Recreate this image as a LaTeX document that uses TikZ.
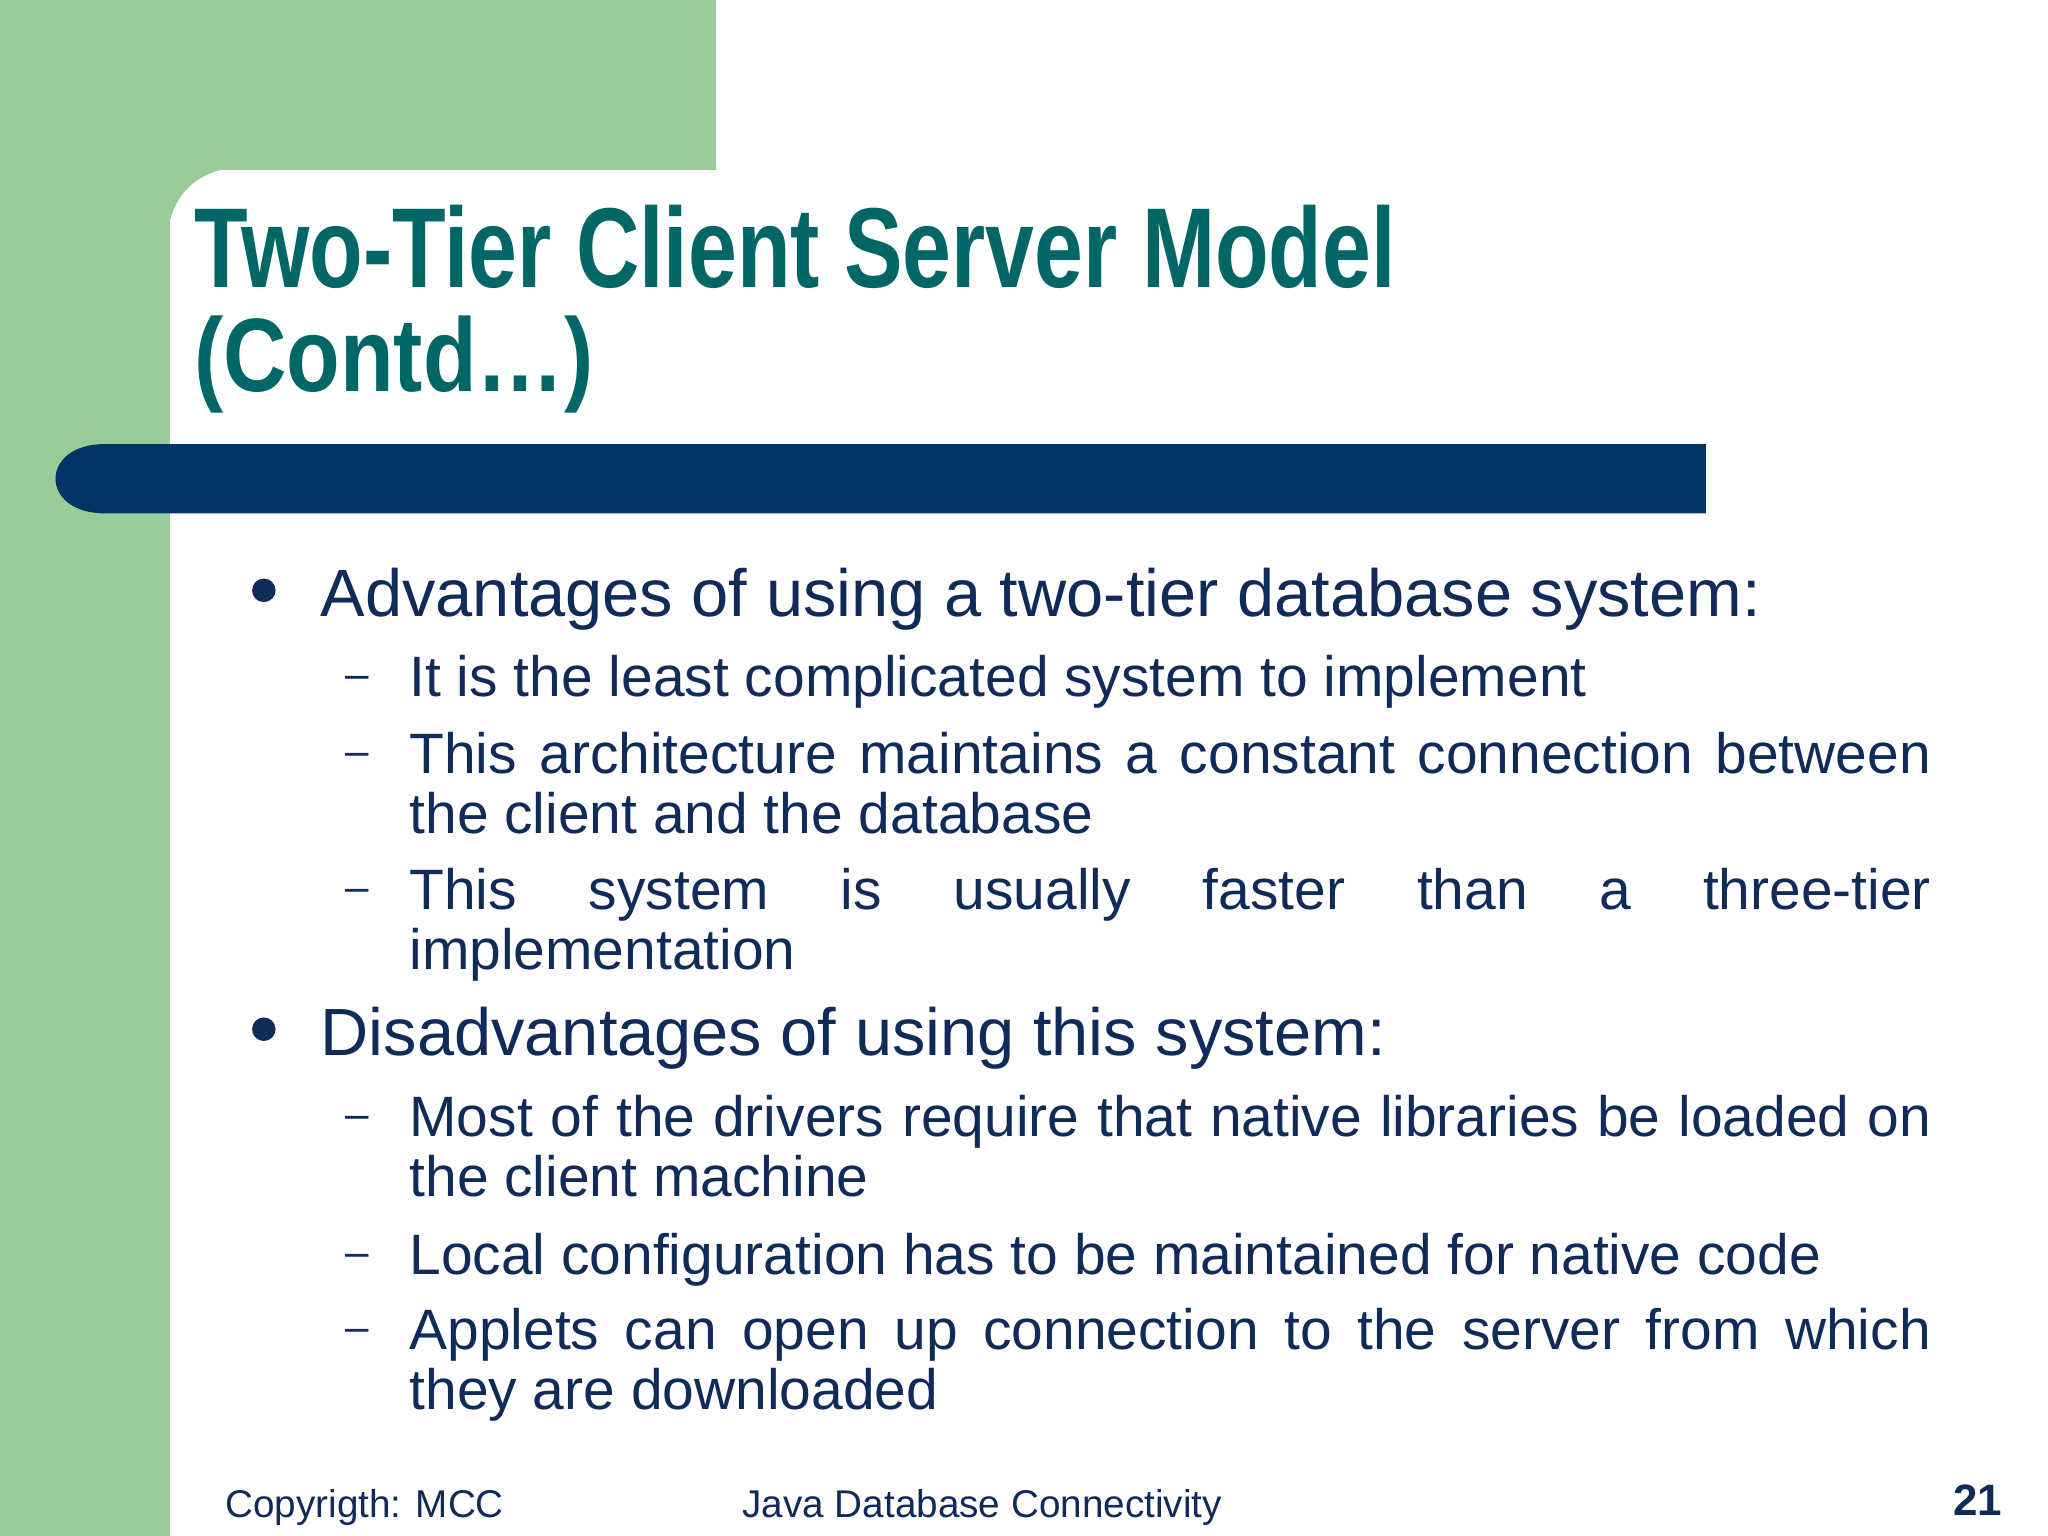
\documentclass[tikz,border=0pt]{standalone}
\usepackage{fontspec}
\setmainfont{Liberation Sans}
\usepackage{graphicx}
\definecolor{gbg}{RGB}{153,204,153}
\definecolor{teal}{RGB}{0,102,102}
\definecolor{navy}{RGB}{0,51,102}
\definecolor{txt}{RGB}{16,42,90}
\newcommand{\jl}[1]{\makebox[432.9pt][s]{#1}}
\tikzset{
 main/.style={anchor=base west,inner sep=0,text=txt,font=\fontsize{19}{22}\selectfont},
 sub/.style={anchor=base west,inner sep=0,text=txt,font=\fontsize{16.2}{19}\selectfont},
 dashmark/.style={anchor=base west,inner sep=0,text=txt,font=\fontsize{12}{14}\selectfont},
 foot/.style={anchor=base west,inner sep=0,text=txt,font=\fontsize{11}{13}\selectfont},
 ttl/.style={anchor=base west,inner sep=0,text=teal,font=\fontsize{33}{36}\bfseries\selectfont}
}
\begin{document}
\begin{tikzpicture}[x=0.01306cm,y=-0.01306cm]
\useasboundingbox (0,0) rectangle (1568,1176);
\fill[white] (0,0) rectangle (1568,1176);
\fill[gbg] (0,0) rectangle (548,130);
\fill[gbg] (0,0) rectangle (130,1176);
\fill[gbg] (129,129) -- (180,129) arc (270:180:51) -- cycle;
\fill[navy] (1306,340) -- (80,340) .. controls (30,340) and (30,393) .. (80,393) -- (1306,393) -- cycle;
\node[ttl] (t1) at (148,220) {\scalebox{0.757}[0.98]{Two-Tier Client Server Model}};
\node[ttl] (t2) at (148,300) {\scalebox{0.757}[0.9]{(Contd…)}};
\fill[txt] (202,452) circle (9) coordinate (b1);
\fill[txt] (202,788) circle (9) coordinate (b2);
\node[main] (m1) at (245,472) {Advantages of using a two-tier database system:};
\node[main] (m2) at (245,808) {Disadvantages of using this system:};
\foreach \y/\n in {533/d1,592/d2,696/d3,870/d4,976/d5,1033/d6}
  \node[dashmark] (\n) at (264,\y-6) {–};
\node[sub] (s1) at (313,533) {It is the least complicated system to implement};
\node[sub] (s2) at (313,592) {\jl{This architecture maintains a constant connection between}};
\node[sub] (s2b) at (313,638) {the client and the database};
\node[sub] (s3) at (313,696) {\jl{This system is usually faster than a three-tier}};
\node[sub] (s3b) at (313,742) {implementation};
\node[sub] (s4) at (313,870) {\jl{Most of the drivers require that native libraries be loaded on}};
\node[sub] (s4b) at (313,916) {the client machine};
\node[sub] (s5) at (313,976) {Local configuration has to be maintained for native code};
\node[sub] (s6) at (313,1033) {\jl{Applets can open up connection to the server from which}};
\node[sub] (s6b) at (313,1079) {they are downloaded};
\node[foot] (f1) at (172,1162) {Copyrigth: MCC};
\node[foot] (f2) at (568,1162) {Java Database Connectivity};
\node[foot,font=\fontsize{12.5}{14}\bfseries\selectfont] (f3) at (1495,1160) {21};
\end{tikzpicture}
\end{document}
